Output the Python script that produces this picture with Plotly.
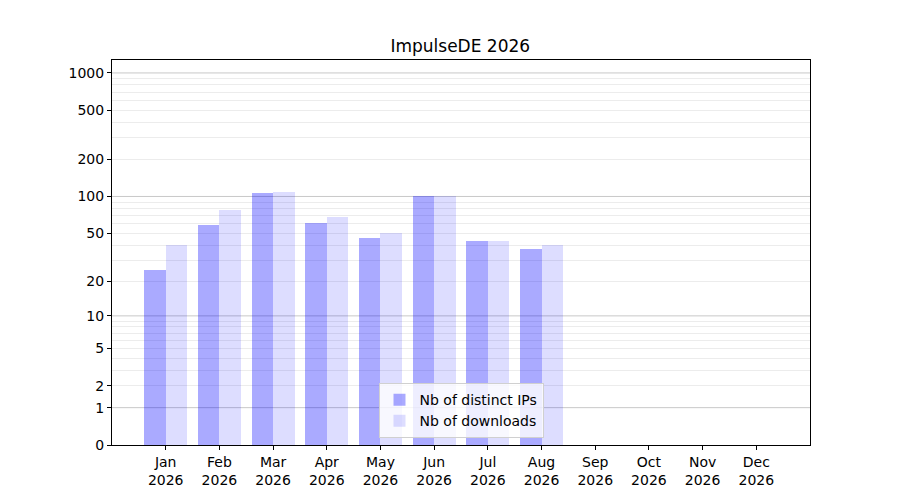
import numpy as np
import plotly.graph_objects as go

# monthly stats
months = ["Jan", "Feb", "Mar", "Apr", "May", "Jun",
          "Jul", "Aug", "Sep", "Oct", "Nov", "Dec"]
year = "2026"
distinct_ips = [25, 58, 106, 61, 46, 100, 43, 37, 0, 0, 0, 0]
downloads = [40, 78, 108, 68, 50, 100, 43, 40, 0, 0, 0, 0]

y_ticks = [0, 1, 2, 5, 10, 20, 50, 100, 200, 500, 1000]
decades = [1, 10, 100, 1000]


def symlog(v):
    """log10(1 + x) scale, plotly has no symlog axis."""
    return np.log10(1 + np.asarray(v, dtype=float))


minor_vals = [m * d for d in (1, 10, 100) for m in range(2, 10)]
idx = np.arange(len(months))

fig = go.Figure()
fig.add_trace(go.Bar(
    x=idx - 0.2, y=symlog(distinct_ips), width=0.4,
    name="Nb of distinct IPs", marker_color="rgba(0,0,255,0.333)",
    marker_line_width=0,
))
fig.add_trace(go.Bar(
    x=idx + 0.2, y=symlog(downloads), width=0.4,
    name="Nb of downloads", marker_color="rgba(0,0,255,0.133)",
    marker_line_width=0,
))

# darker lines on each decade
for d in decades:
    fig.add_hline(y=float(symlog(d)), line_color="#c8c8c8", line_width=1, layer="below")

font = dict(family="DejaVu Sans", size=14, color="black")

# page body has an 8px margin, so shift everything up/left by 8
fig.update_layout(
    width=900, height=500,
    margin=dict(l=104, r=98, t=52, b=63),
    paper_bgcolor="white", plot_bgcolor="white",
    barmode="overlay",
    font=font,
    title=dict(text="ImpulseDE 2026", x=0.5025, xanchor="center",
               y=0.924, yanchor="middle", font=dict(family="DejaVu Sans", size=17, color="black")),
    showlegend=True,
    legend=dict(
        x=0.5, xanchor="center", y=0.018, yanchor="bottom",
        bgcolor="rgba(255,255,255,0.8)", bordercolor="#d0d0d0", borderwidth=1,
        font=dict(family="DejaVu Sans", size=14, color="black"),
        itemsizing="constant",
    ),
    xaxis=dict(
        range=[-1, 12], tickmode="array", tickvals=list(idx),
        ticktext=[f"{m}<br>{year}" for m in months],
        showgrid=False, zeroline=False,
        showline=True, linecolor="black", linewidth=1, mirror=True,
        ticks="outside", ticklen=4, tickcolor="black",
    ),
    yaxis=dict(
        range=[0, float(symlog(1272))], tickmode="array",
        tickvals=list(symlog(y_ticks)), ticktext=[str(t) for t in y_ticks],
        showgrid=False, zeroline=False,
        showline=True, linecolor="black", linewidth=1, mirror=True,
        ticks="outside", ticklen=4, tickcolor="black",
        minor=dict(tickmode="array", tickvals=list(symlog(minor_vals)),
                   showgrid=True, gridcolor="#ececec", gridwidth=1, ticks=""),
    ),
    bargap=0,
)

fig.write_html("out.html")
